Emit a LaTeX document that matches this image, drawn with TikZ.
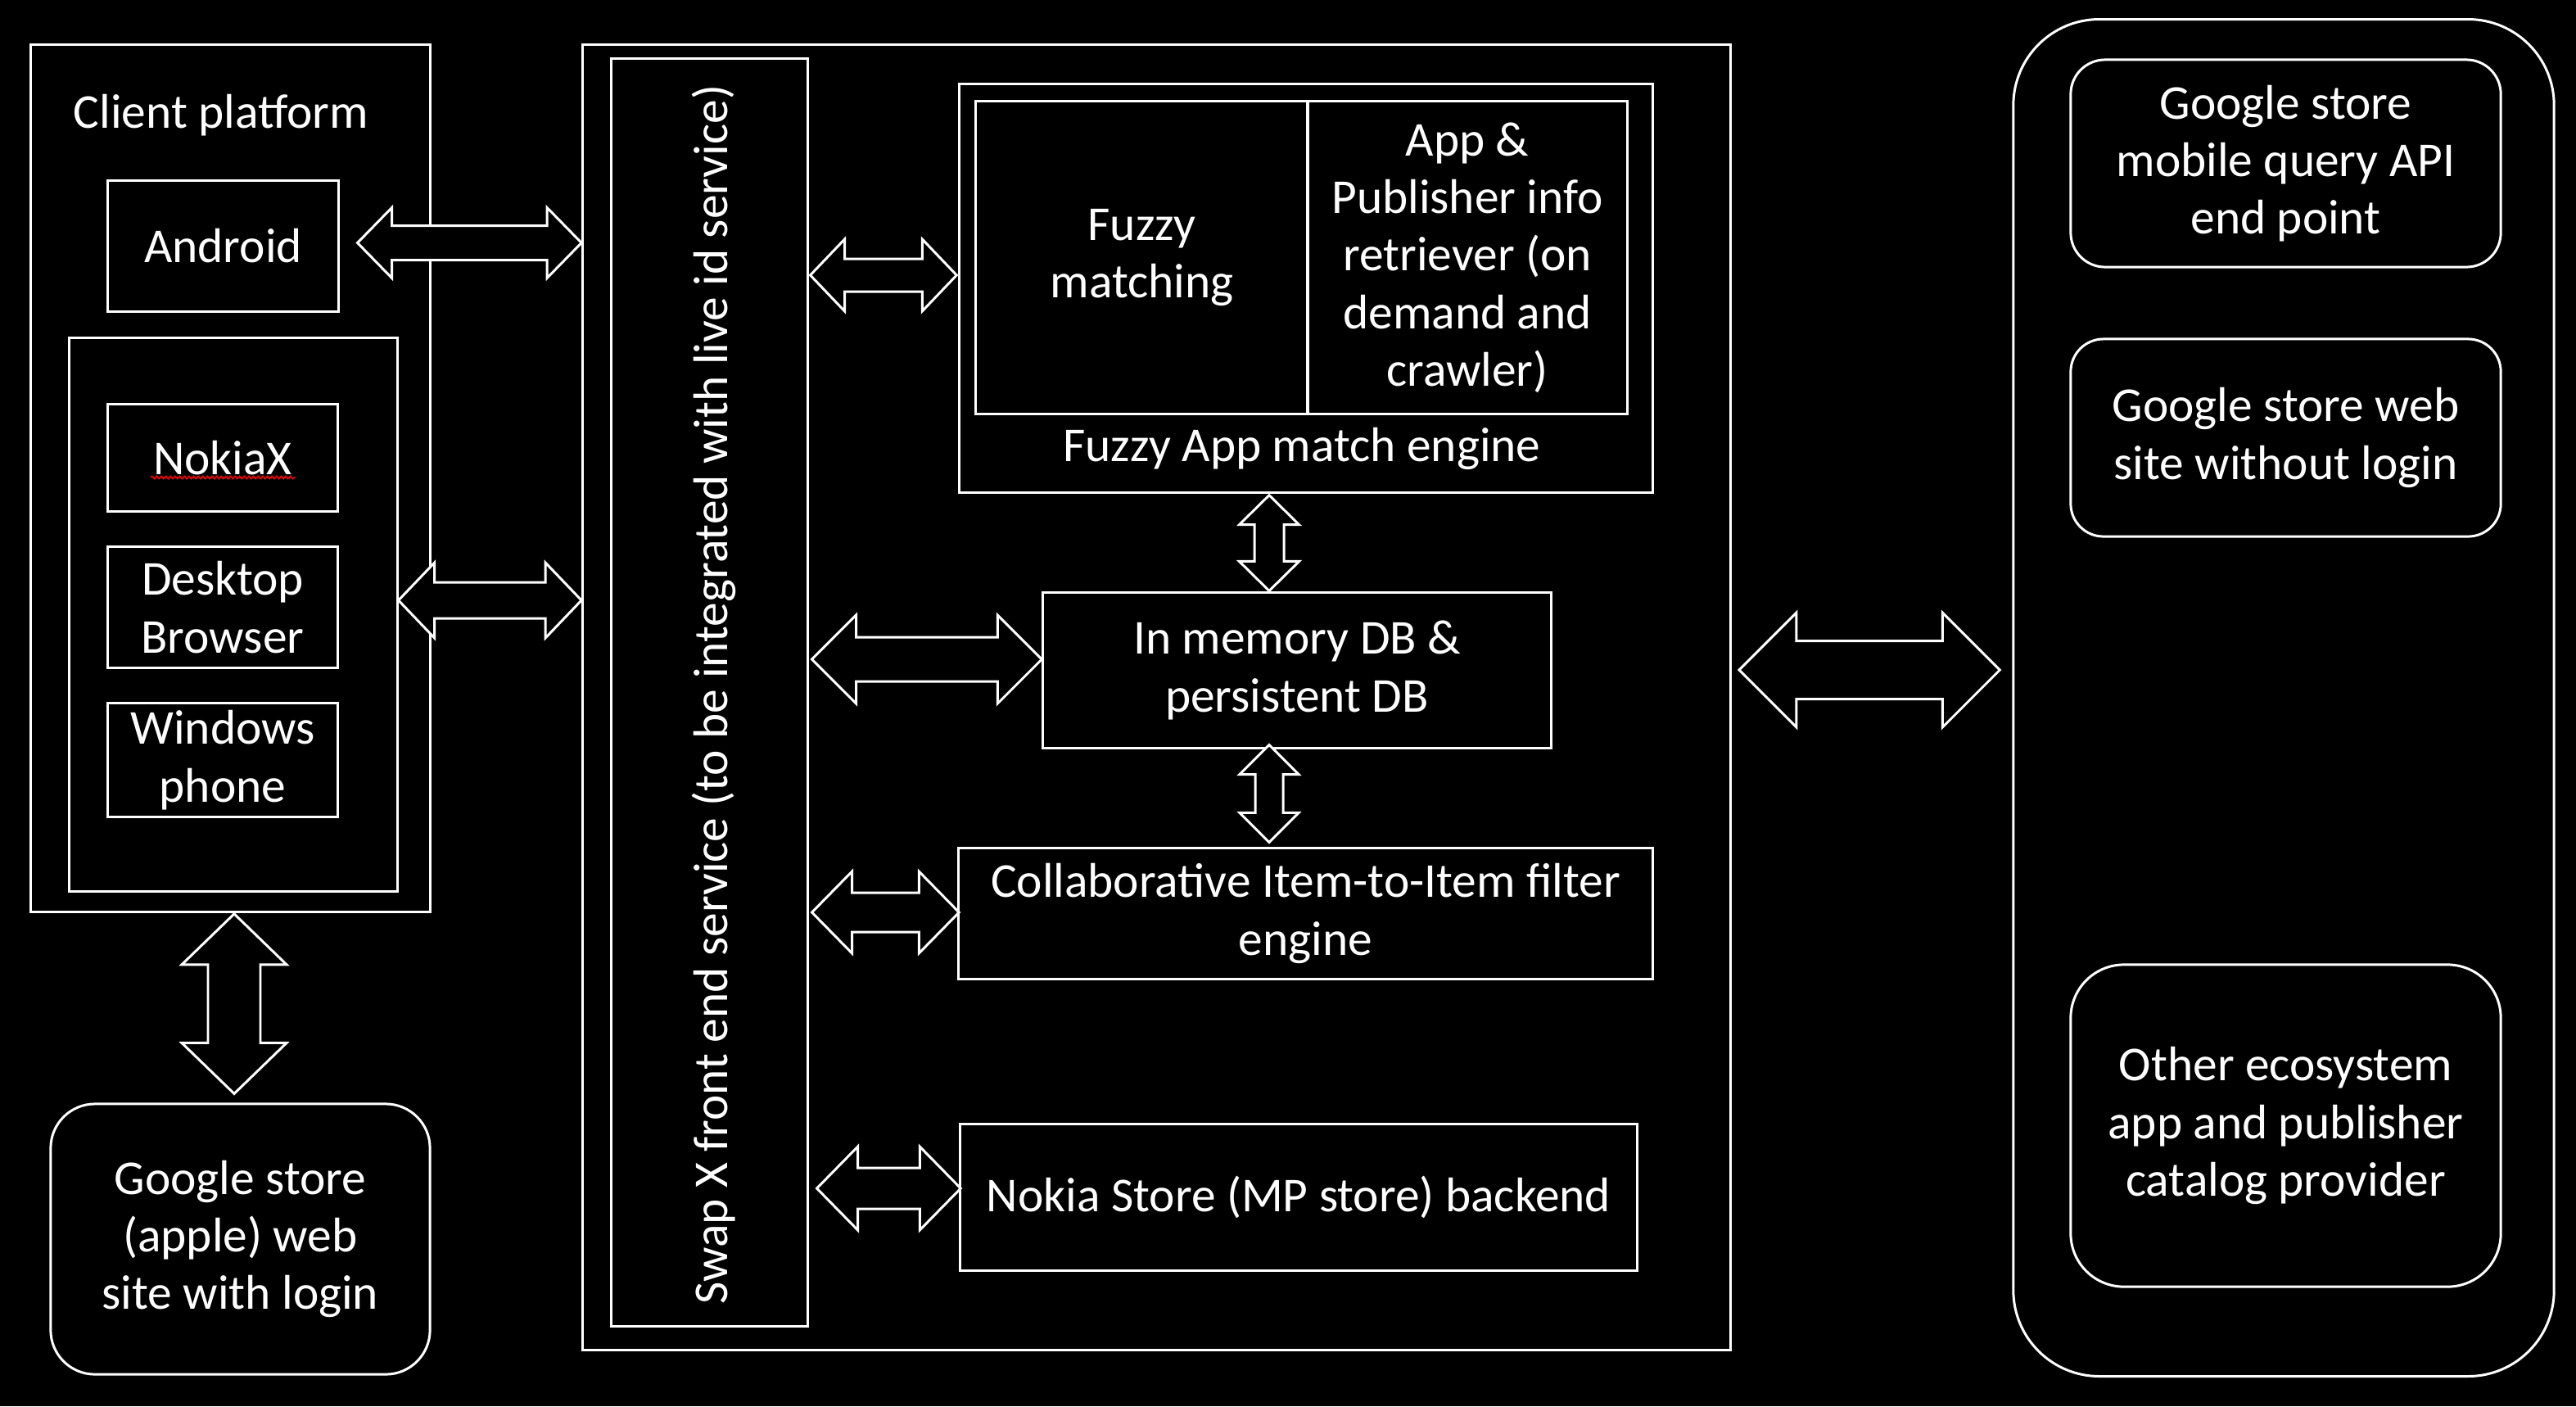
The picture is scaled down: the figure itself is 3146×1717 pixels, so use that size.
\documentclass[tikz,border=0pt]{standalone}
\usepackage{fontspec}
\setmainfont{Carlito}
\usetikzlibrary{calc,decorations.pathmorphing}
\newcommand\txt{\fontsize{16.9pt}{20pt}\selectfont}
% horizontal double block arrow: #1 left tip, #2 right tip, #3 head half height, #4 shaft half height, #5 head length (px)
\newcommand\hdarrow[5]{%
  \draw[blockarrow] (#1) -- ($(#1)+(#5,-#3)$) -- ($(#1)+(#5,-#4)$) -- ($(#2)+(-#5,-#4)$) -- ($(#2)+(-#5,-#3)$) -- (#2)
   -- ($(#2)+(-#5,#3)$) -- ($(#2)+(-#5,#4)$) -- ($(#1)+(#5,#4)$) -- ($(#1)+(#5,#3)$) -- cycle;}
% vertical double block arrow: #1 top tip, #2 bottom tip
\newcommand\vdarrow[5]{%
  \draw[blockarrow] (#1) -- ($(#1)+(#3,#5)$) -- ($(#1)+(#4,#5)$) -- ($(#2)+(#4,-#5)$) -- ($(#2)+(#3,-#5)$) -- (#2)
   -- ($(#2)+(-#3,-#5)$) -- ($(#2)+(-#4,-#5)$) -- ($(#1)+(-#4,#5)$) -- ($(#1)+(-#3,#5)$) -- cycle;}
\begin{document}
\begin{tikzpicture}[x=0.01cm,y=-0.01cm,
  box/.style={draw=white, line width=0.85pt, text=white, align=center, inner sep=0pt, font=\txt},
  rbox/.style={box, rounded corners=#1},
  txtnode/.style={text=white, align=center, inner sep=0pt, font=\txt},
  blockarrow/.style={draw=white, fill=black, line width=0.85pt, line join=miter}]
\fill[black] (0,0) rectangle (3146,1717);
\useasboundingbox (0,0) rectangle (3146,1717);

% Client platform
\node[box, minimum width=4.87cm, minimum height=10.58cm] (client) at (281.5,584) {};
\node[txtnode] (clientlbl) at (270,141) {Client platform};
\node[box, minimum width=2.81cm, minimum height=1.59cm] (android) at (272.5,300.5) {Android};
\node[box, minimum width=4.00cm, minimum height=6.75cm] (inner) at (285,750.5) {};
\node[box, minimum width=2.80cm, minimum height=1.30cm] (nokiax) at (272,559) {NokiaX};
\node[box, minimum width=2.80cm, minimum height=1.47cm] (desktop) at (272,741.5) {Desktop\\Browser};
\node[box, minimum width=2.80cm, minimum height=1.38cm] (windows) at (272,928) {Windows\\phone};
\draw[red, line width=0.45pt, decorate, decoration={snake, amplitude=0.45pt, segment length=1.6pt}]
  ($(nokiax.center)+(-88,24)$) -- ($(nokiax.center)+(88,24)$);

\node[rbox=0.54cm, minimum width=4.63cm, minimum height=3.30cm] (gapple) at (293.5,1513) {Google store\\(apple) web\\site with login};

% Main service box
\node[box, minimum width=14.01cm, minimum height=15.93cm] (main) at (1412.5,851.5) {};
\node[box, minimum width=2.39cm, minimum height=15.47cm] (swap) at (866.5,845.5) {};
\node[txtnode, rotate=90] (swaplbl) at (872,848) {Swap X front end service (to be integrated with live id service)};

\node[box, minimum width=8.46cm, minimum height=4.98cm] (fuzzyeng) at (1595,352) {};
\node[box, minimum width=4.05cm, minimum height=3.81cm] (fuzzymatch) at (1394.5,314.5) {Fuzzy\\matching};
\node[box, minimum width=3.90cm, minimum height=3.81cm] (apppub) at (1792,314.5) {App \&\\Publisher info\\retriever (on\\demand and\\crawler)};
\node[txtnode] (fuzzylbl) at (1590,548) {Fuzzy App match engine};

\node[box, minimum width=6.20cm, minimum height=1.89cm] (inmem) at (1584,818.5) {In memory DB \&\\persistent DB};
\node[box, minimum width=8.47cm, minimum height=1.59cm] (collab) at (1594.5,1115.5) {Collaborative Item-to-Item filter\\engine};
\node[box, minimum width=8.26cm, minimum height=1.78cm] (nokiastore) at (1586,1462) {Nokia Store (MP store) backend};

% Right container
\node[rbox=1.05cm, minimum width=6.60cm, minimum height=16.56cm] (rightc) at (2789,852) {};
\node[rbox=0.42cm, minimum width=5.25cm, minimum height=2.53cm] (gmobile) at (2791.5,199.5) {Google store\\mobile query API\\end point};
\node[rbox=0.40cm, minimum width=5.25cm, minimum height=2.41cm] (gweb) at (2791.5,534.5) {Google store web\\site without login};
\node[rbox=0.65cm, minimum width=5.25cm, minimum height=3.93cm] (other) at (2791.5,1374.5) {Other ecosystem\\app and publisher\\catalog provider};

% Arrow end points
\coordinate (a1l) at ($(android.east)+(22,-4)$);
\coordinate (a1r) at (a1l -| main.west);
\coordinate (a2l) at ($(inner.east)+(0,-17.5)$);
\coordinate (a2r) at (a2l -| main.west);
\coordinate (a3r) at ($(fuzzyeng.west)+(-2,-16)$);
\coordinate (a3l) at ($(a3r -| swap.east)+(2,0)$);
\coordinate (a4r) at ($(inmem.west)+(0,-13.5)$);
\coordinate (a4l) at ($(a4r -| swap.east)+(4,0)$);
\coordinate (a5r) at ($(collab.west)+(2,-1.5)$);
\coordinate (a5l) at ($(a5r -| swap.east)+(4,0)$);
\coordinate (a6r) at ($(nokiastore.west)+(2,-11)$);
\coordinate (a6l) at ($(a6r -| swap.east)+(10,0)$);
\coordinate (v1t) at ($(fuzzyeng.south)+(-45,2)$);
\coordinate (v1b) at ($(v1t |- inmem.north)+(0,-1)$);
\coordinate (v2t) at ($(inmem.south -| v1t)+(0,-5)$);
\coordinate (v2b) at ($(v2t |- collab.north)+(0,-6)$);
\coordinate (a9l) at ($(main.east)+(9,-33.5)$);
\coordinate (a9r) at ($(a9l -| rightc.west)+(-15,0)$);
\coordinate (v3t) at ($(client.south)+(4.5,1)$);
\coordinate (v3b) at ($(v3t |- gapple.north)+(0,-11)$);

% Block arrows
\hdarrow{a1l}{a1r}{43}{21}{42}
\hdarrow{a2l}{a2r}{46}{22}{44}
\hdarrow{a3l}{a3r}{44}{20}{42}
\hdarrow{a4l}{a4r}{54}{27}{54}
\hdarrow{a5l}{a5r}{50}{24}{49}
\hdarrow{a6l}{a6r}{51}{25}{50}
\vdarrow{v1t}{v1b}{36.5}{18}{36}
\vdarrow{v2t}{v2b}{36}{17}{36}
\hdarrow{a9l}{a9r}{70}{35.5}{70}
\vdarrow{v3t}{v3b}{64}{32}{62}
\end{tikzpicture}
\end{document}
